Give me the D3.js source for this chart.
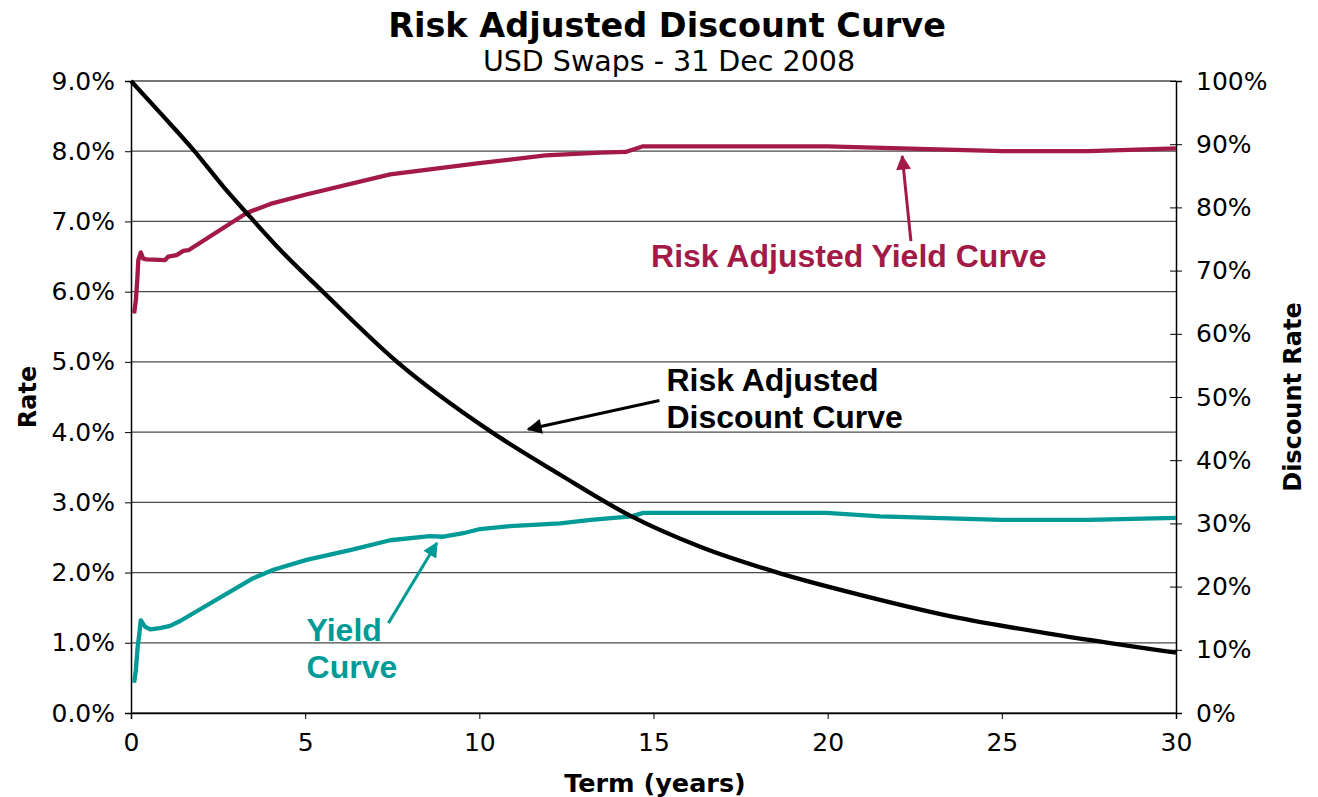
<!DOCTYPE html>
<html>
<head>
<meta charset="utf-8">
<script src="https://cdn.jsdelivr.net/npm/d3@7"></script>
<style>
  html, body { margin: 0; padding: 0; background: #fff; }
  svg { display: block; }
</style>
</head>
<body>
<svg id="chart" width="1318" height="797"></svg>
<script>
// Term (years) and rate (%) readings for the two yield curves
const yieldTerms = [0.09, 0.14, 0.19, 0.24, 0.28, 0.40, 0.55, 0.83, 1.12, 1.41, 3.51, 4.09, 5.04, 6.29, 7.44, 8.58, 8.97, 9.54, 10.02, 10.88, 12.32, 13.2, 14.37, 14.71, 19.97, 21.5, 25, 27.5, 30];
const yieldRates = [0.43, 0.61, 0.94, 1.13, 1.32, 1.23, 1.19, 1.21, 1.24, 1.31, 1.92, 2.04, 2.18, 2.32, 2.46, 2.52, 2.51, 2.56, 2.62, 2.66, 2.70, 2.75, 2.80, 2.85, 2.85, 2.80, 2.75, 2.75, 2.78];

const riskTerms = [0.09, 0.14, 0.18, 0.21, 0.28, 0.35, 0.45, 0.98, 1.07, 1.31, 1.50, 1.65, 3.32, 4.0, 5.0, 7.44, 8.58, 10.0, 11.9, 13.47, 14.2, 14.7, 20.0, 25.0, 27.5, 30];
const riskRates = [5.69, 5.88, 6.17, 6.45, 6.56, 6.47, 6.46, 6.45, 6.50, 6.52, 6.58, 6.59, 7.12, 7.25, 7.38, 7.67, 7.74, 7.83, 7.94, 7.98, 7.99, 8.07, 8.07, 8.00, 8.00, 8.04];

// Discount factor (%) read against the right-hand axis
const discTerms = [0, 0.93, 1.79, 2.65, 3.42, 4.28, 5.52, 7.63, 10.31, 12.32, 14.37, 16.34, 18.63, 20.93, 23.8, 26.67, 30];
const discFactors = [100, 94.4, 89.1, 83.3, 78.5, 73.3, 66.6, 55.6, 44.6, 37.7, 31.1, 26.3, 22.1, 18.7, 15.0, 12.3, 9.55];

// Tick values
const termTicks = [0, 5, 10, 15, 20, 25, 30];
const rateTicks = [0, 1, 2, 3, 4, 5, 6, 7, 8, 9];
const discTicks = [0, 10, 20, 30, 40, 50, 60, 70, 80, 90, 100];

const RED = "#A21A45";
const TEAL = "#009B96";

const svg = d3.select("#chart");
const m = { left: 131, right: 1176, top: 81, bottom: 713 };

const x = d3.scaleLinear().domain([0, 30]).range([m.left, m.right]);
const yL = d3.scaleLinear().domain([0, 9]).range([m.bottom, m.top]);
const yR = d3.scaleLinear().domain([0, 100]).range([m.bottom, m.top]);

// Title block
svg.append("text").attr("x", 667).attr("y", 37).attr("text-anchor", "middle")
  .style("font-family", "'DejaVu Sans', Verdana, sans-serif").style("font-weight", "bold").style("font-size", "33.5px")
  .text("Risk Adjusted Discount Curve");
svg.append("text").attr("x", 669).attr("y", 71).attr("text-anchor", "middle")
  .style("font-family", "'DejaVu Sans', Verdana, sans-serif").style("font-size", "28.5px")
  .text("USD Swaps - 31 Dec 2008");

// Horizontal gridlines
svg.append("g").selectAll("line").data(rateTicks).join("line")
  .attr("x1", m.left).attr("x2", m.right)
  .attr("y1", d => yL(d)).attr("y2", d => yL(d))
  .attr("stroke", "#4a4a4a").attr("stroke-width", 1.3);

const tickFont = g => g.selectAll("text")
  .style("font-family", "'DejaVu Sans', Verdana, sans-serif").style("font-size", "25px").attr("fill", "#000");

// Left axis
svg.append("g").attr("transform", `translate(${m.left},0)`)
  .call(d3.axisLeft(yL).tickValues(rateTicks).tickFormat(d => d3.format(".1f")(d) + "%").tickSize(6).tickPadding(10))
  .call(g => g.select(".domain").attr("stroke", "#000").attr("stroke-width", 1.5))
  .call(g => g.selectAll(".tick line").attr("stroke", "#000"))
  .call(tickFont);

// Right axis
svg.append("g").attr("transform", `translate(${m.right},0)`)
  .call(d3.axisRight(yR).tickValues(discTicks).tickFormat(d => d + "%").tickSize(6).tickPadding(14))
  .call(g => g.select(".domain").attr("stroke", "#000").attr("stroke-width", 1.5))
  .call(g => g.selectAll(".tick line").attr("stroke", "#000").attr("x1", -6))
  .call(tickFont);

// Bottom axis
svg.append("g").attr("transform", `translate(0,${m.bottom})`)
  .call(d3.axisBottom(x).tickValues(termTicks).tickFormat(d3.format("d")).tickSize(6).tickPadding(14))
  .call(g => g.select(".domain").attr("stroke", "#000").attr("stroke-width", 1.5))
  .call(g => g.selectAll(".tick line").attr("stroke", "#000"))
  .call(tickFont);

// Axis titles
const axisTitle = sel => sel.style("font-family", "'DejaVu Sans', Verdana, sans-serif")
  .style("font-weight", "bold").style("font-size", "24px").attr("text-anchor", "middle");
svg.append("text").attr("x", 655).attr("y", 792).text("Term (years)").call(axisTitle).style("font-size", "25.5px");
svg.append("text").attr("transform", "translate(36,397) rotate(-90)").text("Rate").call(axisTitle);
svg.append("text").attr("transform", "translate(1301,397) rotate(-90)").text("Discount Rate").call(axisTitle);

// Curves
const lineL = d3.line().x(d => x(d[0])).y(d => yL(d[1]));
const lineR = d3.line().x(d => x(d[0])).y(d => yR(d[1])).curve(d3.curveMonotoneX);

svg.append("path").datum(d3.zip(yieldTerms, yieldRates)).attr("d", lineL)
  .attr("fill", "none").attr("stroke", TEAL).attr("stroke-width", 4.3).attr("stroke-linejoin", "round");
svg.append("path").datum(d3.zip(riskTerms, riskRates)).attr("d", lineL)
  .attr("fill", "none").attr("stroke", RED).attr("stroke-width", 4.3).attr("stroke-linejoin", "round");
svg.append("path").datum(d3.zip(discTerms, discFactors)).attr("d", lineR)
  .attr("fill", "none").attr("stroke", "#000").attr("stroke-width", 4.3).attr("stroke-linejoin", "round");

// Annotation arrows, anchored in term/rate units
const defs = svg.append("defs");
[["black", "#000"], ["red", RED], ["teal", TEAL]].forEach(([id, c]) => {
  defs.append("marker").attr("id", "head-" + id)
    .attr("viewBox", "0 0 10 10").attr("refX", 9).attr("refY", 5)
    .attr("markerWidth", 6).attr("markerHeight", 5).attr("markerUnits", "strokeWidth")
    .attr("orient", "auto")
    .append("path").attr("d", "M0,0 L10,5 L0,10 z").attr("fill", c);
});

const arrows = [
  { from: [15.17, 4.45], to: [11.4, 4.04], color: "#000", id: "black" },
  { from: [22.39, 6.72], to: [22.14, 7.93], color: RED, id: "red" },
  { from: [7.39, 1.28], to: [8.78, 2.42], color: TEAL, id: "teal" }
];
svg.append("g").selectAll("line").data(arrows).join("line")
  .attr("x1", d => x(d.from[0])).attr("y1", d => yL(d.from[1]))
  .attr("x2", d => x(d.to[0])).attr("y2", d => yL(d.to[1]))
  .attr("stroke", d => d.color).attr("stroke-width", 3)
  .attr("marker-end", d => `url(#head-${d.id})`);

const labels = [
  { t: 15.37, r: 4.59, text: "Risk Adjusted", color: "#000" },
  { t: 15.37, r: 4.06, text: "Discount Curve", color: "#000" },
  { t: 14.93, r: 6.35, text: "Risk Adjusted Yield Curve", color: RED },
  { t: 5.04, r: 1.03, text: "Yield", color: TEAL },
  { t: 5.04, r: 0.50, text: "Curve", color: TEAL }
];
svg.append("g").selectAll("text").data(labels).join("text")
  .attr("x", d => x(d.t)).attr("y", d => yL(d.r))
  .attr("fill", d => d.color)
  .style("font-family", "'Liberation Sans', Arial, sans-serif").style("font-weight", "bold").style("font-size", "32px")
  .text(d => d.text);
</script>
</body>
</html>
